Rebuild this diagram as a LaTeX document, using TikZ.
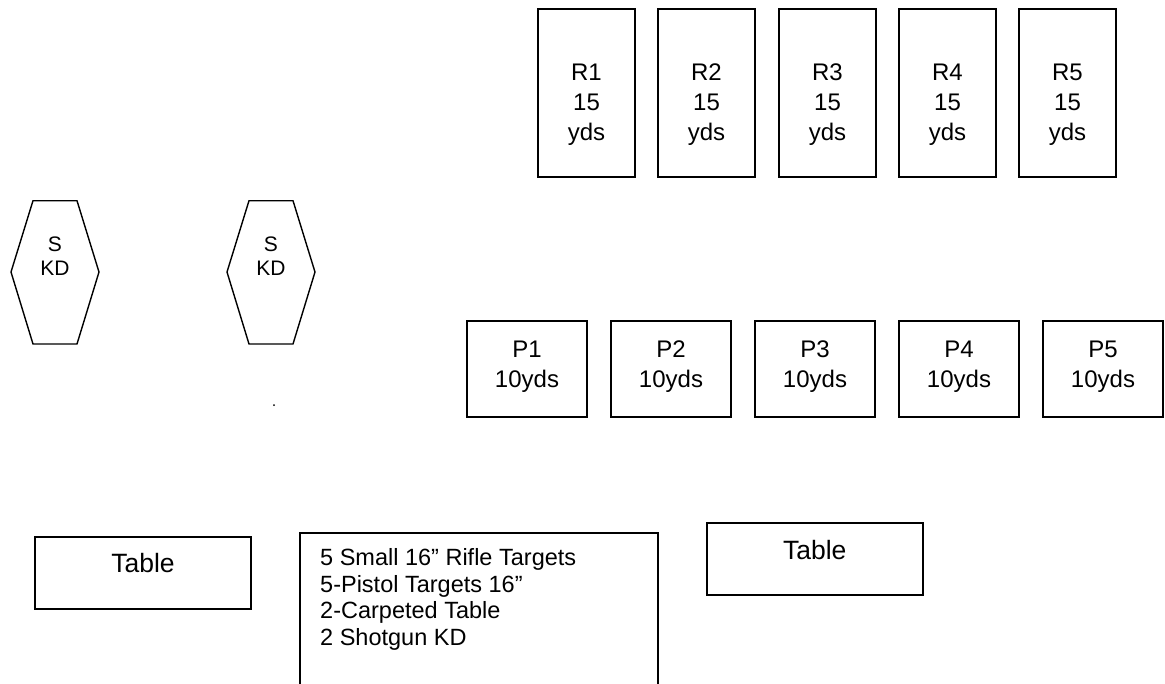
\documentclass[tikz,border=0pt]{standalone}
\usepackage{fontspec}
\setmainfont{Liberation Sans}
\begin{document}
\begin{tikzpicture}[x=1pt,y=-1pt,
  box/.style={draw=black, line width=1.8pt, inner sep=0pt},
  hexa/.style={draw=black, line width=1.4pt, line join=miter},
  rtxt/.style={inner sep=0pt, anchor=north, align=center, font=\fontsize{24}{30}\selectfont},
  htxt/.style={inner sep=0pt, anchor=north, align=center, font=\fontsize{21}{24}\selectfont},
  ttxt/.style={inner sep=0pt, anchor=north, font=\fontsize{26.5}{30}\selectfont},
  ltxt/.style={inner sep=0pt, anchor=north west, align=left, font=\fontsize{23.5}{26.7}\selectfont}]
\useasboundingbox[fill=white] (0,0) rectangle (1165,683);
% rifle targets
\foreach \i/\x in {1/538,2/658,3/779,4/899,5/1019}{
  \node[box, minimum width=97pt, minimum height=168pt] (r\i) at (\x+48.5,93) {};
  \node[rtxt] (r\i t) at (\x+48.5,63.5) {R\i\\15\\yds};
}
% pistol targets
\foreach \i/\x in {1/467,2/611,3/755,4/899,5/1043}{
  \node[box, minimum width=120pt, minimum height=96pt] (p\i) at (\x+60,369) {};
  \node[rtxt] (p\i t) at (\x+60,340.5) {P\i\\10yds};
}
% shotgun knock-downs
\draw[hexa] (33,200.7) -- (77,200.7) -- (99,272) -- (77,344) -- (33,344) -- (11,272) -- cycle;
\node[htxt] (s1) at (55,236.7) {S\\KD};
\draw[hexa] (249,200.7) -- (293,200.7) -- (315,272) -- (293,344) -- (249,344) -- (227,272) -- cycle;
\node[htxt] (s2) at (271,236.7) {S\\KD};
\fill (274,405) circle (1pt);
% tables
\node[box, minimum width=216pt, minimum height=72pt] (t1) at (143,572.7) {};
\node[ttxt] (t1t) at (143,552.7) {Table};
\node[box, minimum width=216pt, minimum height=72pt] (t2) at (814.7,559.3) {};
\node[ttxt] (t2t) at (814.7,540.3) {Table};
% equipment list
\draw[line width=1.8pt] (300,700) -- (300,533.3) -- (658,533.3) -- (658,700);
\node[ltxt] (list) at (320,548.2) {5 Small 16” Rifle Targets\\5-Pistol Targets 16”\\2-Carpeted Table\\2 Shotgun KD};
\end{tikzpicture}
\end{document}
